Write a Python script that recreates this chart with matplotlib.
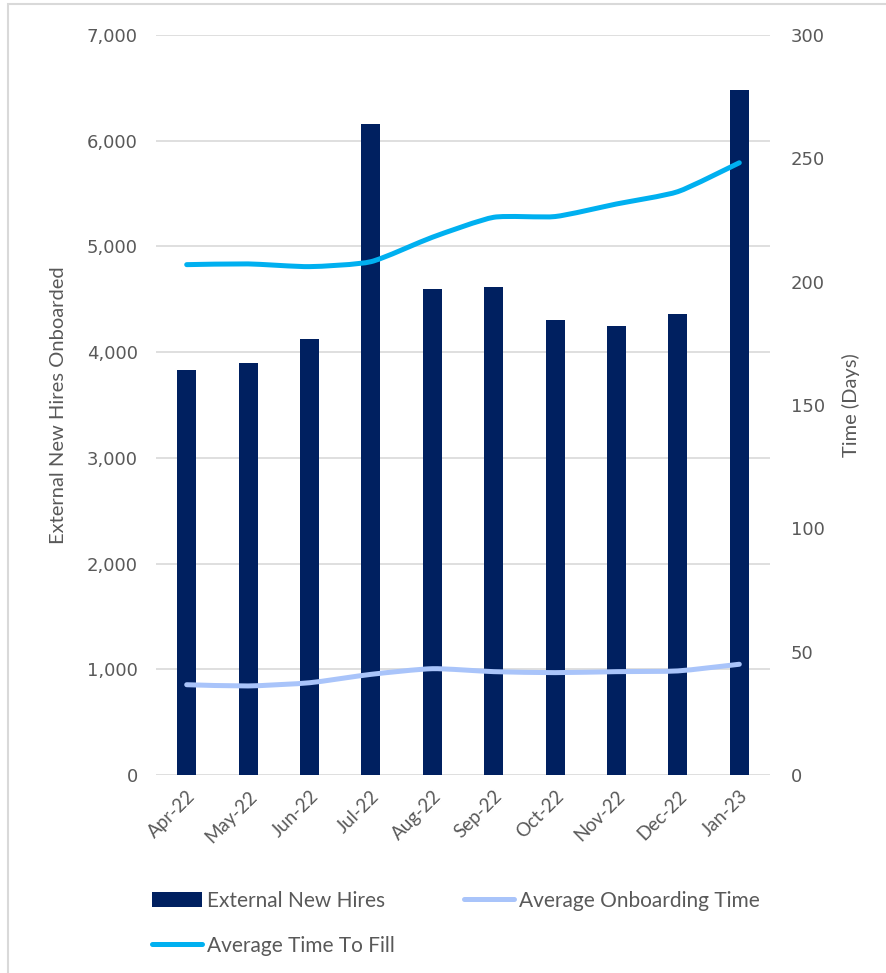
import matplotlib
matplotlib.use("Agg")
import matplotlib.pyplot as plt
from matplotlib.path import Path
from matplotlib.patches import PathPatch, Rectangle
from matplotlib.lines import Line2D
from matplotlib.ticker import FuncFormatter, MultipleLocator
import numpy as np

months = ["Apr-22", "May-22", "Jun-22", "Jul-22", "Aug-22",
          "Sep-22", "Oct-22", "Nov-22", "Dec-22", "Jan-23"]
new_hires = [3830, 3900, 4125, 6155, 4595, 4620, 4300, 4245, 4360, 6480]
onboarding_days = [36.6, 36.1, 37.4, 40.8, 43.1, 41.9, 41.5, 41.9, 42.2, 44.9]
time_to_fill_days = [206.9, 207.2, 206.1, 208.1, 218.0, 226.1, 226.4, 231.5, 236.5, 248.2]

NAVY = "#002060"
CYAN = "#00B0F0"
PALE = "#A9C4FA"
GRID = "#D9D9D9"
TEXT = "#595959"

TEXT_FONT = ["Lato", "DejaVu Sans"]
NUM_FONT = ["DejaVu Sans"]


def smooth_path(xs, ys, k=1 / 10):
    """Cubic Bezier path through the points with gently rounded joints."""
    pts = np.column_stack([xs, ys]).astype(float)
    n = len(pts)
    verts = [pts[0]]
    codes = [Path.MOVETO]
    for i in range(n - 1):
        p0 = pts[i - 1] if i > 0 else pts[i]
        p1 = pts[i]
        p2 = pts[i + 1]
        p3 = pts[i + 2] if i + 2 < n else pts[i + 1]
        c1 = p1 + (p2 - p0) * k
        c2 = p2 - (p3 - p1) * k
        verts += [c1, c2, p2]
        codes += [Path.CURVE4] * 3
    return Path(verts, codes)


fig = plt.figure(figsize=(8.86, 9.73), dpi=100)
fig.patch.set_facecolor("white")

# thin frame around the chart area
fig.add_artist(Rectangle((8 / 886, -0.05), 1.2, 1 - 4 / 973 + 0.05,
                         transform=fig.transFigure, fill=False,
                         edgecolor=GRID, linewidth=1.5))

ax = fig.add_axes([156 / 886, 1 - 775 / 973, (770 - 156) / 886, (775 - 35) / 973])
x = np.arange(len(months))

ax.bar(x, new_hires, width=0.31, color=NAVY, zorder=2)
ax.set_xlim(-0.5, len(months) - 0.5)
ax.set_ylim(0, 7000)
ax.yaxis.set_major_locator(MultipleLocator(1000))
ax.yaxis.set_major_formatter(FuncFormatter(lambda v, p: f"{int(v):,}"))
ax.grid(axis="y", color=GRID, linewidth=1.2, zorder=0)
ax.set_axisbelow(True)
for s in ax.spines.values():
    s.set_visible(False)
ax.tick_params(axis="y", length=0, pad=13, labelsize=13, labelcolor=TEXT)
ax.tick_params(axis="x", length=0, pad=9)
ax.set_xticks(x)
ax.set_xticklabels(months, rotation=45, ha="right", va="top",
                   rotation_mode="anchor", fontsize=13.5, color=TEXT,
                   family=TEXT_FONT)
for lab in ax.get_yticklabels():
    lab.set_family(NUM_FONT)
ax.set_ylabel("External New Hires Onboarded", fontsize=14.5, color=TEXT,
              family=TEXT_FONT, labelpad=14)

ax2 = ax.twinx()
ax2.set_ylim(0, 300)
ax2.yaxis.set_major_locator(MultipleLocator(50))
for s in ax2.spines.values():
    s.set_visible(False)
ax2.tick_params(axis="y", length=0, pad=15, labelsize=13, labelcolor=TEXT)
for lab in ax2.get_yticklabels():
    lab.set_family(NUM_FONT)
ax2.set_ylabel("Time (Days)", fontsize=14.5, color=TEXT, family=TEXT_FONT,
               labelpad=12)

ax2.add_patch(PathPatch(smooth_path(x, onboarding_days), facecolor="none",
                        edgecolor=PALE, linewidth=3.6, capstyle="round",
                        joinstyle="round", zorder=3))
ax2.add_patch(PathPatch(smooth_path(x, time_to_fill_days), facecolor="none",
                        edgecolor=CYAN, linewidth=3.6, capstyle="round",
                        joinstyle="round", zorder=3))

handles = [
    Rectangle((0, 0), 1, 1, facecolor=NAVY, edgecolor="none"),
    Line2D([], [], color=CYAN, linewidth=3.6, solid_capstyle="round"),
    Line2D([], [], color=PALE, linewidth=3.6, solid_capstyle="round"),
]
labels = ["External New Hires", "Average Time To Fill", "Average Onboarding Time"]
fig.legend(handles, labels, ncol=2, loc="upper left",
           bbox_to_anchor=(133 / 886, 1 - 872 / 973), frameon=False,
           prop={"family": TEXT_FONT, "size": 15}, labelcolor=TEXT,
           handlelength=2.4, handleheight=0.7, handletextpad=0.25,
           columnspacing=3.3, labelspacing=1.2)

fig.savefig("out.png", dpi=100, facecolor="white")
